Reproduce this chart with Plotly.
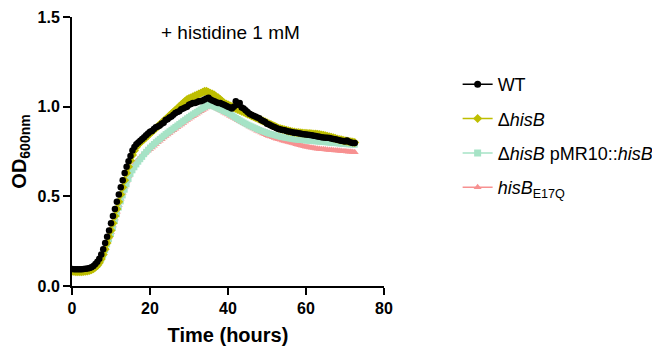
import numpy as np
import plotly.graph_objects as go

# sampling times (hours), every 30 min
time_h = np.round(np.arange(0, 73, 0.5), 1)

wt = [
    0.095, 0.094, 0.093, 0.093, 0.093, 0.094, 0.095, 0.096, 0.098, 0.101,
    0.105, 0.112, 0.122, 0.135, 0.152, 0.175, 0.205, 0.240, 0.275, 0.310,
    0.350, 0.390, 0.430, 0.470, 0.510, 0.550, 0.590, 0.630, 0.665, 0.695,
    0.725, 0.755, 0.775, 0.790, 0.800, 0.810, 0.820, 0.830, 0.840, 0.850,
    0.860, 0.865, 0.875, 0.885, 0.890, 0.895, 0.905, 0.910, 0.925, 0.930,
    0.940, 0.945, 0.955, 0.965, 0.970, 0.975, 0.985, 0.990, 0.995, 1.000,
    1.010, 1.015, 1.020, 1.020, 1.025, 1.030, 1.030, 1.035, 1.040, 1.045,
    1.050, 1.040, 1.035, 1.030, 1.025, 1.020, 1.020, 1.015, 1.010, 1.005,
    1.000, 0.995, 0.990, 1.000, 1.030, 1.010, 1.020, 0.995, 0.990, 0.980,
    0.970, 0.960, 0.955, 0.950, 0.945, 0.940, 0.935, 0.925, 0.920, 0.915,
    0.905, 0.900, 0.895, 0.890, 0.885, 0.880, 0.875, 0.872, 0.870, 0.868,
    0.865, 0.862, 0.860, 0.858, 0.855, 0.855, 0.852, 0.850, 0.848, 0.846,
    0.845, 0.843, 0.842, 0.840, 0.838, 0.836, 0.834, 0.832, 0.830, 0.828,
    0.827, 0.826, 0.825, 0.822, 0.820, 0.818, 0.815, 0.813, 0.810, 0.808,
    0.806, 0.812, 0.805, 0.800, 0.798, 0.797,
]

delta_hisB = [
    0.082, 0.081, 0.080, 0.080, 0.080, 0.080, 0.081, 0.082, 0.084, 0.087,
    0.091, 0.097, 0.105, 0.115, 0.130, 0.150, 0.175, 0.205, 0.240, 0.275,
    0.310, 0.350, 0.390, 0.430, 0.470, 0.510, 0.550, 0.590, 0.630, 0.665,
    0.700, 0.730, 0.755, 0.775, 0.790, 0.800, 0.810, 0.820, 0.830, 0.840,
    0.850, 0.860, 0.870, 0.880, 0.890, 0.900, 0.910, 0.920, 0.930, 0.940,
    0.950, 0.960, 0.970, 0.980, 0.990, 1.000, 1.010, 1.020, 1.030, 1.040,
    1.045, 1.050, 1.055, 1.060, 1.065, 1.070, 1.075, 1.080, 1.085, 1.085,
    1.080, 1.075, 1.070, 1.065, 1.055, 1.050, 1.040, 1.030, 1.020, 1.015,
    1.010, 1.005, 1.000, 0.995, 0.990, 0.985, 0.980, 0.975, 0.970, 0.965,
    0.960, 0.955, 0.950, 0.945, 0.940, 0.935, 0.930, 0.925, 0.920, 0.915,
    0.910, 0.905, 0.900, 0.895, 0.890, 0.885, 0.880, 0.877, 0.874, 0.871,
    0.868, 0.865, 0.862, 0.860, 0.858, 0.856, 0.855, 0.854, 0.853, 0.852,
    0.851, 0.850, 0.850, 0.849, 0.848, 0.847, 0.846, 0.844, 0.842, 0.840,
    0.838, 0.835, 0.832, 0.829, 0.826, 0.823, 0.820, 0.817, 0.815, 0.812,
    0.810, 0.808, 0.806, 0.804, 0.802, 0.800,
]

complemented = [
    0.085, 0.084, 0.083, 0.083, 0.083, 0.083, 0.084, 0.085, 0.087, 0.090,
    0.094, 0.100, 0.108, 0.118, 0.132, 0.150, 0.172, 0.200, 0.232, 0.262,
    0.290, 0.325, 0.362, 0.400, 0.437, 0.472, 0.505, 0.537, 0.567, 0.597,
    0.625, 0.645, 0.662, 0.678, 0.693, 0.707, 0.720, 0.735, 0.748, 0.760,
    0.772, 0.782, 0.792, 0.802, 0.811, 0.820, 0.829, 0.838, 0.847, 0.855,
    0.863, 0.871, 0.879, 0.887, 0.895, 0.903, 0.911, 0.919, 0.927, 0.935,
    0.942, 0.950, 0.957, 0.964, 0.971, 0.978, 0.985, 0.992, 0.998, 1.004,
    1.010, 1.008, 1.005, 1.000, 0.995, 0.990, 0.985, 0.980, 0.975, 0.970,
    0.965, 0.958, 0.952, 0.945, 0.938, 0.931, 0.924, 0.918, 0.912, 0.906,
    0.900, 0.895, 0.890, 0.885, 0.880, 0.875, 0.870, 0.866, 0.862, 0.858,
    0.854, 0.850, 0.847, 0.844, 0.841, 0.838, 0.835, 0.832, 0.830, 0.828,
    0.826, 0.824, 0.822, 0.820, 0.818, 0.817, 0.816, 0.815, 0.814, 0.813,
    0.812, 0.811, 0.810, 0.809, 0.808, 0.807, 0.806, 0.805, 0.804, 0.803,
    0.802, 0.801, 0.800, 0.799, 0.798, 0.797, 0.796, 0.795, 0.794, 0.793,
    0.792, 0.791, 0.790, 0.790, 0.789, 0.788,
]

hisB_E17Q = [
    0.088, 0.087, 0.086, 0.086, 0.086, 0.086, 0.087, 0.088, 0.090, 0.093,
    0.097, 0.104, 0.113, 0.124, 0.140, 0.160, 0.185, 0.215, 0.248, 0.275,
    0.300, 0.338, 0.376, 0.414, 0.450, 0.486, 0.520, 0.553, 0.585, 0.613,
    0.640, 0.660, 0.678, 0.693, 0.706, 0.718, 0.729, 0.739, 0.748, 0.755,
    0.762, 0.772, 0.782, 0.792, 0.801, 0.810, 0.819, 0.828, 0.837, 0.845,
    0.853, 0.861, 0.869, 0.877, 0.885, 0.893, 0.901, 0.909, 0.917, 0.925,
    0.932, 0.940, 0.947, 0.954, 0.961, 0.968, 0.975, 0.982, 0.989, 0.996,
    1.002, 1.005, 1.003, 0.998, 0.992, 0.986, 0.980, 0.974, 0.968, 0.962,
    0.956, 0.950, 0.944, 0.938, 0.932, 0.926, 0.920, 0.914, 0.908, 0.902,
    0.896, 0.890, 0.884, 0.878, 0.872, 0.866, 0.861, 0.856, 0.851, 0.846,
    0.841, 0.837, 0.833, 0.829, 0.825, 0.821, 0.818, 0.815, 0.812, 0.809,
    0.806, 0.803, 0.800, 0.797, 0.794, 0.791, 0.788, 0.785, 0.782, 0.779,
    0.777, 0.775, 0.773, 0.771, 0.769, 0.767, 0.765, 0.764, 0.763, 0.762,
    0.761, 0.760, 0.759, 0.758, 0.757, 0.756, 0.755, 0.754, 0.753, 0.752,
    0.751, 0.750, 0.749, 0.748, 0.747, 0.746,
]

names = [
    "WT",
    "Δ<i>hisB</i>",
    "Δ<i>hisB</i> pMR10::<i>hisB</i>",
    "<i>hisB</i><sub>E17Q</sub>",
]
series = [wt, delta_hisB, complemented, hisB_E17Q]
colors = ["#000000", "#BEBE00", "#A6E3C6", "#F79191"]
symbols = ["circle", "diamond", "square", "triangle-up"]
sizes = [6.5, 7, 6, 7]

FONT = "Liberation Sans, Arial, sans-serif"

fig = go.Figure()
# data markers: draw in reverse so WT sits on top
for i in [3, 2, 1, 0]:
    fig.add_trace(go.Scatter(
        x=time_h, y=series[i], name=names[i],
        mode="markers",
        marker=dict(color=colors[i], symbol=symbols[i], size=sizes[i],
                    line=dict(width=0)),
        showlegend=False,
    ))
# legend entries (line + symbol), in reference order
for i in range(4):
    fig.add_trace(go.Scatter(
        x=[None], y=[None], name=names[i],
        mode="lines+markers",
        line=dict(color=colors[i], width=1.5),
        marker=dict(color=colors[i], symbol=symbols[i], size=7),
        legendgroup=f"g{i}",
    ))

axis_common = dict(
    showline=True, linecolor="black", linewidth=2,
    ticks="outside", ticklen=7, tickwidth=2, tickcolor="black",
    showgrid=False, zeroline=False, automargin=False,
    tickfont=dict(family=FONT, size=16, color="black", weight="bold"),
)

fig.update_xaxes(range=[0, 80], tickvals=[0, 20, 40, 60, 80],
                 title=dict(text="<b>Time (hours)</b>",
                            font=dict(family=FONT, size=20, color="black"),
                            standoff=12),
                 **axis_common)
fig.update_yaxes(range=[0, 1.5], tickvals=[0, 0.5, 1.0, 1.5],
                 ticktext=["0.0", "0.5", "1.0", "1.5"],
                 title=dict(text="<b>OD<sub>600nm</sub></b>",
                            font=dict(family=FONT, size=20, color="black"),
                            standoff=6),
                 **axis_common)

fig.add_annotation(text="+ histidine 1 mM", xref="paper", yref="paper",
                   x=0.508, y=0.99, showarrow=False,
                   font=dict(family=FONT, size=19, color="black"))

# page body has an 8px default offset; margins compensate for it
fig.update_layout(
    width=660, height=349,
    margin=dict(l=64, r=284, t=9, b=71, autoexpand=False),
    plot_bgcolor="white", paper_bgcolor="white",
    legend=dict(x=1.236, y=0.818, xanchor="left", yanchor="top",
                traceorder="grouped", tracegroupgap=8,
                font=dict(family=FONT, size=18, color="black"),
                bgcolor="rgba(0,0,0,0)"),
)

fig.write_html("out.html")
